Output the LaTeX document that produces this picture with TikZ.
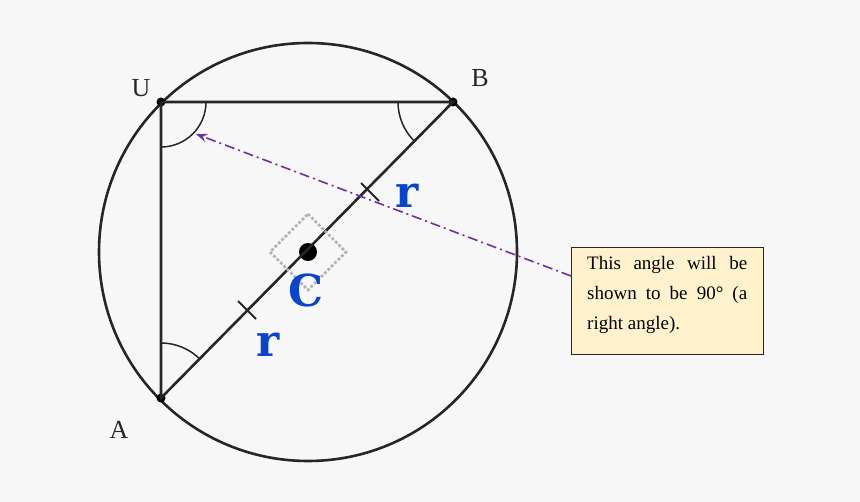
\documentclass[tikz,border=0pt]{standalone}
\usepackage{fontspec}
\setmainfont{Liberation Serif}
\newfontfamily\monof{DejaVu Serif}
\usetikzlibrary{arrows.meta}
\definecolor{bg}{HTML}{F7F7F7}
\definecolor{ln}{HTML}{262626}
\definecolor{bl}{HTML}{0A44CC}
\definecolor{pu}{HTML}{7030A0}
\definecolor{nt}{HTML}{FFF2CC}
\tikzset{edge/.style={draw=ln,line width=2.6pt},
 arc/.style={draw=ln,line width=1.5pt},
 pt/.style={circle,fill=black,inner sep=0pt,minimum size=9pt},
 lab/.style={font=\fontsize{26}{28}\selectfont,text=ln},
 rl/.style={font=\monof\bfseries\fontsize{44}{44}\selectfont,text=bl}}
\begin{document}
\begin{tikzpicture}[x=1pt,y=-1pt]
\fill[bg] (0,0) rectangle (860,502);
\useasboundingbox (0,0) rectangle (860,502);
\coordinate (O) at (308,252);
\draw[edge] (O) circle (209);
\node[pt] (U) at (161,102) {};
\node[pt] (B) at (453,102) {};
\node[pt] (A) at (161,398) {};
\node[circle,fill=black,inner sep=0pt,minimum width=15pt,minimum height=18pt] (C) at (308,252) {};
\draw[edge] (U.center) -- (B.center) -- (A.center) -- (U.center);
\draw[gray!60,line width=2.8pt,dotted] (308,214) -- (346,252) -- (308,290) -- (270,252) -- cycle;
% ticks
\draw[edge,line width=2pt] (361,183) -- (379,201);
\draw[edge,line width=2pt] (238,301) -- (256,319);
% angles
\draw[arc] (161,147) arc[start angle=90,end angle=0,radius=45];
\draw[arc] (398,102) arc[start angle=180,end angle=135,radius=55];
\draw[arc] (161,343) arc[start angle=-90,end angle=-45,radius=55];
\node[lab] (lU) at (141,88) {U};
\node[lab] (lB) at (480,78) {B};
\node[lab] (lA) at (119,430) {A};
\node[rl] (r1) at (407,196) {r};
\node[rl] (r2) at (268,345) {r};
\node[rl] (lc) at (306,290) {C};
\node[draw=ln,fill=nt,line width=0.8pt,minimum width=192pt,minimum height=107pt,anchor=north west,inner sep=0pt] (note) at (571,247) {};
\node[anchor=north west,text width=160pt,align=justify,font=\fontsize{19}{30}\selectfont,inner sep=0pt] (nt) at (587,256) {This angle will be shown to be 90° (a right angle).};
\coordinate (tip) at (196,134);
\draw[pu,line width=1.6pt,dash pattern=on 10pt off 4pt on 2pt off 4pt,-{Stealth[length=11pt]}] (note.west |- 0,276) -- (tip);
\end{tikzpicture}
\end{document}
